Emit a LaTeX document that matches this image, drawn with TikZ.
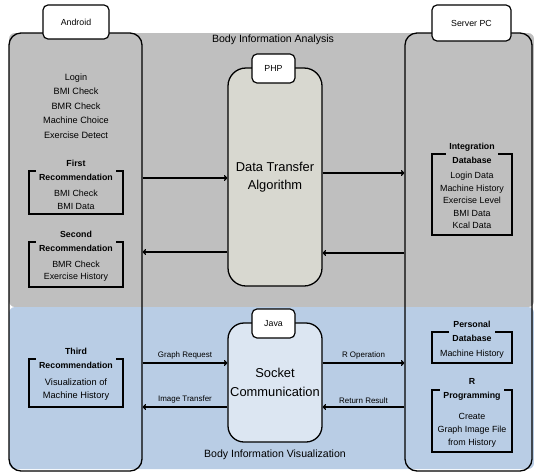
\documentclass[tikz,border=0pt]{standalone}
\usepackage{fontspec}
\setmainfont{Liberation Sans}
\usetikzlibrary{arrows.meta}

\definecolor{bandgray}{HTML}{BFBFBF}
\definecolor{bandblue}{HTML}{B9CDE5}
\definecolor{phpfill}{HTML}{D8D8D0}
\definecolor{javafill}{HTML}{DCE6F2}

\newlength\px
\setlength\px{0.03cm}

\tikzset{
  mainbox/.style={draw, line width=1.1pt, rounded corners=12\px, inner sep=0pt, align=center},
  tabbox/.style={draw, fill=white, line width=1pt, rounded corners=5\px, inner sep=0pt,
    font=\fontsize{7.5}{9}\selectfont},
  recbox/.style={draw, line width=0.9pt, inner sep=0pt},
  rectitle/.style={inner xsep=3pt, inner ysep=0pt, align=center,
    font=\bfseries\fontsize{7.5}{11.9}\selectfont},
  reclist/.style={align=center, inner sep=0pt},
  arr/.style={line width=1pt, -{To[length=3pt,width=5pt]}},
  arrlabel/.style={font=\fontsize{6.8}{8}\selectfont, above=2.5pt, inner sep=0pt}
}

\begin{document}
\begin{tikzpicture}[x=0.03cm, y=-0.03cm]
\useasboundingbox (0,0) rectangle (534,473);
{\fontsize{7.8}{9}\selectfont

% Drawing band analysis
\fill [bandgray, rounded corners=6\px] (9,33) rectangle (534,307);%

% Drawing band visualization
\fill [bandblue, rounded corners=6\px] (9,307) rectangle (534,469);%

% Drawing main boxes
\node [mainbox, minimum width=133\px, minimum height=438\px] (android) at (75.5,252) {};%
\node [mainbox, minimum width=127\px, minimum height=438\px] (server) at (468.5,252) {};%
\node [mainbox, fill=phpfill, rounded corners=18\px, minimum width=94\px, minimum height=218\px,
  font=\fontsize{11}{15.3}\selectfont] (php) at (275,177) {Data Transfer\\Algorithm};%
\node [mainbox, fill=javafill, rounded corners=16\px, minimum width=94\px, minimum height=119\px,
  font=\fontsize{11}{16.2}\selectfont] (java) at (275,382.5) {Socket\\Communication};%

% Drawing tabs
\node [tabbox, minimum width=66\px, minimum height=34\px] (androidtab) at (76,22) {Android};%
\node [tabbox, minimum width=79\px, minimum height=36\px] (servertab) at (471.5,23) {Server PC};%
\node [tabbox, minimum width=43\px, minimum height=29\px] (phptab) at (273.5,68.5) {PHP};%
\node [tabbox, minimum width=43\px, minimum height=29\px] (javatab) at (273.5,323.5) {Java};%

% Marking band titles
\node [font=\fontsize{9}{11}\selectfont] (analysis) at (273,40) {Body Information Analysis};%
\node [font=\fontsize{9}{11}\selectfont] (visual) at (275,455) {Body Information Visualization};%

% Marking android list
\node [reclist, font=\fontsize{7.8}{12.3}\selectfont] (androidlist) at (76,106)
  {Login\\BMI Check\\BMR Check\\Machine Choice\\Exercise Detect};%

% Drawing first recommendation
\node [recbox, minimum width=94\px, minimum height=43\px] (first) at (76,192.5) {};%
\node [rectitle, fill=bandgray] (firsttitle) at (first.north) {First\\Recommendation};%
\node [reclist, font=\fontsize{7.6}{11}\selectfont] (firstlist) at (76,199.5) {BMI Check\\BMI Data};%

% Drawing second recommendation
\node [recbox, minimum width=94\px, minimum height=45\px] (second) at (76,264.5) {};%
\node [rectitle, fill=bandgray] (secondtitle) at (second.north) {Second\\Recommendation};%
\node [reclist, font=\fontsize{7.6}{10.2}\selectfont] (secondlist) at (76,271) {BMR Check\\Exercise History};%

% Drawing third recommendation
\node [recbox, minimum width=94\px, minimum height=48\px] (third) at (76,383) {};%
\node [rectitle, fill=bandblue] (thirdtitle) at (third.north) {Third\\Recommendation};%
\node [reclist, font=\fontsize{7.9}{11}\selectfont] (thirdlist) at (76,389.5) {Visualization of\\Machine History};%

% Drawing integration database
\node [recbox, minimum width=80\px, minimum height=81\px] (integ) at (472,194.5) {};%
\node [rectitle, fill=bandgray] (integtitle) at (integ.north) {Integration\\Database};%
\node [reclist, font=\fontsize{7.6}{10.8}\selectfont] (integlist) at (472,200.5)
  {Login Data\\Machine History\\Exercise Level\\BMI Data\\Kcal Data};%

% Drawing personal database
\node [recbox, minimum width=80\px, minimum height=31\px] (personal) at (472,347.5) {};%
\node [rectitle, fill=bandblue] (personaltitle) at (personal.north) {Personal\\Database};%
\node [reclist, font=\fontsize{7.6}{10}\selectfont] (personallist) at (472,354) {Machine History};%

% Drawing r programming
\node [recbox, minimum width=80\px, minimum height=62\px] (rprog) at (472,421) {};%
\node [rectitle, fill=bandblue] (rprogtitle) at (rprog.north) {R\\Programming};%
\node [reclist, font=\fontsize{7.6}{11}\selectfont] (rproglist) at (472,430)
  {Create\\Graph Image File\\from History};%

% Drawing arrows analysis
\draw [arr] (android.east |- 0,178) -- (php.west |- 0,178);%
\draw [arr] (php.west |- 0,252) -- (android.east |- 0,252);%
\draw [arr] (php.east |- 0,173) -- (server.west |- 0,173);%
\draw [arr] (server.west |- 0,253) -- (php.east |- 0,253);%

% Drawing arrows visualization
\draw [arr] (android.east |- 0,363) -- node [arrlabel] {Graph Request} (java.west |- 0,363);%
\draw [arr] (java.west |- 0,407) -- node [arrlabel] {Image Transfer} (android.east |- 0,407);%
\draw [arr] (java.east |- 0,363) -- node [arrlabel] {R Operation} (server.west |- 0,363);%
\draw [arr] (server.west |- 0,407) -- node [arrlabel] {Return Result} (java.east |- 0,407);%
}
\end{tikzpicture}
\end{document}
